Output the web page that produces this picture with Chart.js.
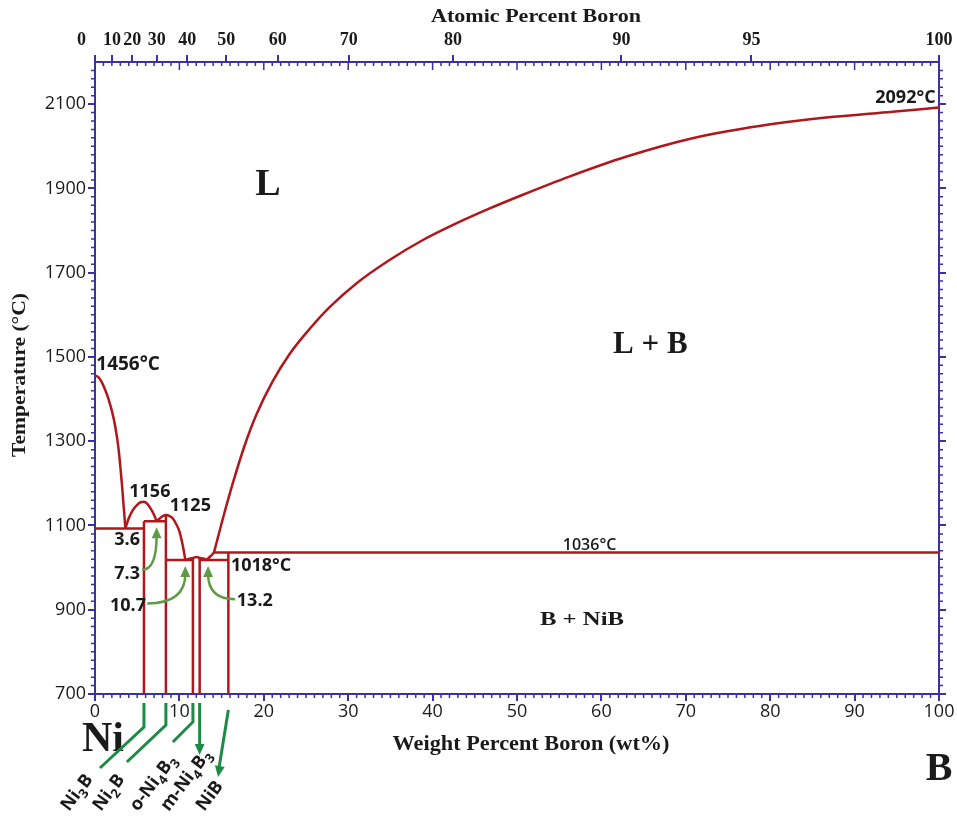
<!DOCTYPE html>
<html>
<head>
<meta charset="utf-8">
<title>Ni–B phase diagram</title>
<script src="https://cdn.jsdelivr.net/npm/chart.js@4.4.1/dist/chart.umd.min.js"></script>
<style>
  html, body { margin: 0; padding: 0; background: #fff; }
  canvas { display: block; }
</style>
</head>
<body>
<canvas id="chart" width="957" height="817"></canvas>
<script>
const AXIS = '#3a31a2';
const RED = '#b0171d';
const LEADER = '#1f8a45';
const POINTER = '#5f9a45';
const INK = '#1a1a1a';

// atomic masses, used only to place the atomic-percent ticks on the top axis
const M_NI = 58.69, M_B = 10.81;
const atToWt = a => 100 * a * M_B / (a * M_B + (100 - a) * M_NI);

const wtTicks = [0, 10, 20, 30, 40, 50, 60, 70, 80, 90, 100];
const atTicks = [0, 10, 20, 30, 40, 50, 60, 70, 80, 90, 95, 100];
const tempTicks = [700, 900, 1100, 1300, 1500, 1700, 1900, 2100];

// liquidus branches, [wt% B, °C]
const niLiquidus = [[0, 1456], [0.4, 1452], [0.8, 1440], [1.2, 1422], [1.6, 1400], [2.0, 1372],
  [2.4, 1335], [2.8, 1280], [3.2, 1195], [3.6, 1093]];
const ni3bLiquidus = [[3.6, 1093], [4.0, 1117], [4.5, 1137], [5.0, 1149], [5.4, 1155], [5.8, 1156],
  [6.2, 1151], [6.6, 1140], [7.0, 1125], [7.3, 1110]];
const ni2bLiquidus = [[7.3, 1110], [7.7, 1117], [8.0, 1122], [8.4, 1125], [8.8, 1123], [9.2, 1117],
  [9.6, 1104], [10.0, 1086], [10.3, 1062], [10.5, 1042], [10.7, 1018]];
const ni4b3Liquidus = [[10.7, 1018], [11.2, 1021], [11.6, 1023], [12.0, 1025], [12.4, 1023],
  [12.9, 1021], [13.2, 1018]];
const nibLiquidus = [[13.2, 1018], [13.7, 1027], [14.1, 1036]];
const boronLiquidus = [[14.1, 1036], [15.2, 1120], [16.4, 1205], [17.7, 1288], [19.1, 1362],
  [21, 1440], [23.1, 1508], [25.5, 1568], [27.8, 1618], [31, 1675], [34.9, 1730], [38.8, 1777],
  [42.8, 1817], [46.7, 1852], [50.7, 1885], [56.2, 1928], [62.9, 1975], [70.8, 2019],
  [78.7, 2048], [86.6, 2068], [94.5, 2082], [100, 2092]];

// invariant lines: [from wt%, to wt%, °C]
const isotherms = [[0, 5.8, 1093], [5.8, 8.4, 1110], [8.4, 11.6, 1018], [12.4, 15.8, 1018], [14.1, 100, 1036]];

// intermediate compounds
const compoundNames = ['Ni3B', 'Ni2B', 'o-Ni4B3', 'm-Ni4B3', 'NiB'];
const compoundWt = [5.8, 8.4, 11.6, 12.4, 15.8];
const compoundTop = [1110, 1125, 1023, 1023, 1036];

// eutectic compositions pointed at by the green arrows
const eutecticWt = [7.3, 10.7, 13.2];
const eutecticTemp = [1110, 1018, 1018];

const line = (pts, smooth) => ({
  data: pts.map(([x, y]) => ({ x, y })),
  showLine: true,
  borderColor: RED,
  borderWidth: 2.5,
  pointRadius: 0,
  cubicInterpolationMode: smooth ? 'monotone' : 'default',
  tension: 0
});

const datasets = [
  line(niLiquidus, true),
  line(ni3bLiquidus, true),
  line(ni2bLiquidus, true),
  line(ni4b3Liquidus, true),
  line(nibLiquidus, true),
  line(boronLiquidus, true),
  ...isotherms.map(([a, b, t]) => line([[a, t], [b, t]], false)),
  ...compoundWt.map((w, i) => line([[w, 700], [w, compoundTop[i]]], false))
];

const serif = '"Liberation Serif", "Times New Roman", serif';
const sans = '"Open Sans", "DejaVu Sans", sans-serif';

function stretched(ctx, str, x, y, width, font, rot) {
  ctx.save();
  ctx.font = font;
  ctx.translate(x, y);
  ctx.rotate(rot || 0);
  ctx.scale(width / ctx.measureText(str).width, 1);
  ctx.textAlign = 'center';
  ctx.textBaseline = 'middle';
  ctx.fillText(str, 0, 0);
  ctx.restore();
}

function label(ctx, str, x, y, font, align) {
  ctx.font = font;
  ctx.textAlign = align || 'center';
  ctx.textBaseline = 'middle';
  ctx.fillText(str, x, y);
}

function head(ctx, x, y, ang, size) {
  ctx.save();
  ctx.translate(x, y);
  ctx.rotate(ang);
  ctx.beginPath();
  ctx.moveTo(2, 0);
  ctx.lineTo(-size, -size * 0.55);
  ctx.lineTo(-size, size * 0.55);
  ctx.closePath();
  ctx.fill();
  ctx.restore();
}

// chemical formula with subscript digits, rotated along the leader
function formula(ctx, name, x, y) {
  ctx.save();
  ctx.translate(x, y);
  ctx.rotate(-53 * Math.PI / 180);
  ctx.textAlign = 'left';
  ctx.textBaseline = 'alphabetic';
  let cx = 0;
  for (const ch of name) {
    const sub = /\d/.test(ch);
    ctx.font = sub ? `700 13px ${sans}` : `700 18px ${sans}`;
    ctx.fillText(ch, cx, sub ? 5 : 0);
    cx += ctx.measureText(ch).width + (sub ? 1 : 0);
  }
  ctx.restore();
}

const overlay = {
  id: 'overlay',
  afterDraw(chart) {
    const { ctx, chartArea: area, scales } = chart;
    const px = v => scales.x.getPixelForValue(v);
    const py = v => scales.y.getPixelForValue(v);
    ctx.save();

    // minor ticks on all four sides, plus the wt% ticks along the inside of the top edge
    ctx.strokeStyle = AXIS;
    ctx.lineWidth = 1.5;
    ctx.beginPath();
    for (let w = 0; w <= 100; w++) {
      const x = px(w);
      if (w % 10) { ctx.moveTo(x, area.bottom); ctx.lineTo(x, area.bottom + 4); }
      ctx.moveTo(x, area.top); ctx.lineTo(x, area.top + (w % 10 ? 4 : 8));
    }
    for (let t = 720; t < 2200; t += 20) {
      if ((t - 700) % 200 === 0) continue;
      const y = py(t);
      ctx.moveTo(area.left - 4, y); ctx.lineTo(area.left, y);
      ctx.moveTo(area.right, y); ctx.lineTo(area.right + 4, y);
    }
    ctx.stroke();

    // axis titles
    ctx.fillStyle = INK;
    stretched(ctx, 'Atomic Percent Boron', 536, 17, 210, `700 18px ${serif}`);
    stretched(ctx, 'Weight Percent Boron (wt%)', 531, 745, 277, `700 21px ${serif}`);
    stretched(ctx, 'Temperature (°C)', 20, 375, 164, `700 18px ${serif}`, -Math.PI / 2);

    // field and point labels
    const num = `700 18px ${sans}`;
    label(ctx, '1456°C', px(0.15), py(1481), `700 19px ${sans}`, 'left');
    label(ctx, '1156', px(6.5), py(1179), num);
    label(ctx, '1125', px(11.3), py(1146), num);
    label(ctx, '3.6', px(3.8), py(1065), num);
    label(ctx, '7.3', px(3.8), py(985), num);
    label(ctx, '10.7', px(3.9), py(909), num);
    label(ctx, '13.2', px(16.8), py(921), num, 'left');
    label(ctx, '1018°C', px(16.1), py(1004), num, 'left');
    label(ctx, '1036°C', px(58.6), py(1053), `600 16px ${sans}`);
    label(ctx, '2092°C', px(99.6), py(2114), num, 'right');
    label(ctx, 'L', px(20.5), py(1908), `700 38px ${serif}`);
    label(ctx, 'L + B', px(65.8), py(1528), `700 31px ${serif}`);
    stretched(ctx, 'B + NiB', px(57.7), py(876), 84, `700 19px ${serif}`);
    label(ctx, 'Ni', px(0.95), py(591), `700 42px ${serif}`);
    label(ctx, 'B', px(100), py(520), `700 40px ${serif}`);

    // curved pointers from the composition labels to the eutectics
    const starts = [[5.6, 995], [6.2, 915], [16.6, 925]];
    ctx.strokeStyle = POINTER;
    ctx.fillStyle = POINTER;
    ctx.lineWidth = 2.5;
    eutecticWt.forEach((w, i) => {
      const sx = px(starts[i][0]), sy = py(starts[i][1]);
      const tx = px(w + (i === 2 ? 0.2 : 0)), ty = py(eutecticTemp[i]) + 8;
      const cx = tx, cy = sy;
      ctx.beginPath();
      ctx.moveTo(sx, sy);
      ctx.quadraticCurveTo(cx, cy, tx, ty + 6);
      ctx.stroke();
      head(ctx, tx, ty, Math.atan2(ty - cy, tx - cx), 9);
    });

    // leaders from each compound line to its formula below the axis
    const bottom = area.bottom;
    const leaders = [
      [[0, 9], [0, 33], [-44, 74]],
      [[0, 9], [0, 31], [-39, 68]],
      [[0, 9], [0, 28], [-20, 48]],
      [[0, 9], [0, 56]],
      [[0, 16], [-10, 78]]
    ];
    const arrowed = [false, false, false, true, true];
    const labelDx = [-75, -65, -55, -31, -24];
    ctx.strokeStyle = LEADER;
    ctx.fillStyle = LEADER;
    ctx.lineWidth = 3;
    compoundWt.forEach((w, i) => {
      const x0 = px(w);
      const pts = leaders[i].map(([dx, dy]) => [x0 + dx, bottom + dy]);
      ctx.beginPath();
      pts.forEach(([x, y], k) => (k ? ctx.lineTo(x, y) : ctx.moveTo(x, y)));
      ctx.stroke();
      if (arrowed[i]) {
        const [ax, ay] = pts[pts.length - 1], [bx, by] = pts[pts.length - 2];
        head(ctx, ax, ay + 3, Math.atan2(ay - by, ax - bx), 9);
      }
    });
    ctx.fillStyle = INK;
    compoundNames.forEach((n, i) => formula(ctx, n, px(compoundWt[i]) + labelDx[i], 812));

    ctx.restore();
  }
};

const frame = (extra) => Object.assign({
  type: 'linear',
  grid: { drawOnChartArea: false, drawTicks: true, tickLength: 7, color: AXIS, lineWidth: 2 },
  border: { display: true, color: AXIS, width: 2 }
}, extra);

new Chart(document.getElementById('chart'), {
  type: 'scatter',
  data: { datasets },
  options: {
    responsive: false,
    animation: false,
    events: [],
    layout: { padding: 0 },
    plugins: { legend: { display: false }, tooltip: { enabled: false } },
    scales: {
      x: frame({
        position: 'bottom', min: 0, max: 100,
        afterBuildTicks: s => { s.ticks = wtTicks.map(v => ({ value: v })); },
        afterFit: s => { s.height = 123; },
        ticks: { color: INK, font: { family: sans, size: 18 }, padding: 0, maxRotation: 0, autoSkip: false,
          callback: v => String(v) }
      }),
      x2: frame({
        position: 'top', min: 0, max: 100,
        afterBuildTicks: s => { s.ticks = atTicks.map(a => ({ value: atToWt(a) })); },
        afterFit: s => { s.height = 62; },
        ticks: {
          color: INK, font: { family: serif, size: 18, weight: '700' }, padding: 4,
          maxRotation: 0, autoSkip: false,
          // the crowded 0 label is nudged left of its tick with trailing spaces
          callback: (v, i) => (i === 0 ? '0\u2002\u2002\u2002' : String(atTicks[i]))
        }
      }),
      y: frame({
        position: 'left', min: 700, max: 2200,
        afterBuildTicks: s => { s.ticks = tempTicks.map(v => ({ value: v })); },
        afterFit: s => { s.width = 95; },
        ticks: { color: INK, font: { family: sans, size: 18 }, padding: 2, callback: v => String(v) }
      }),
      y2: frame({
        position: 'right', min: 700, max: 2200,
        afterBuildTicks: s => { s.ticks = tempTicks.map(v => ({ value: v })); },
        afterFit: s => { s.width = 18; },
        ticks: { display: false }
      })
    }
  },
  plugins: [overlay]
});
</script>
</body>
</html>
